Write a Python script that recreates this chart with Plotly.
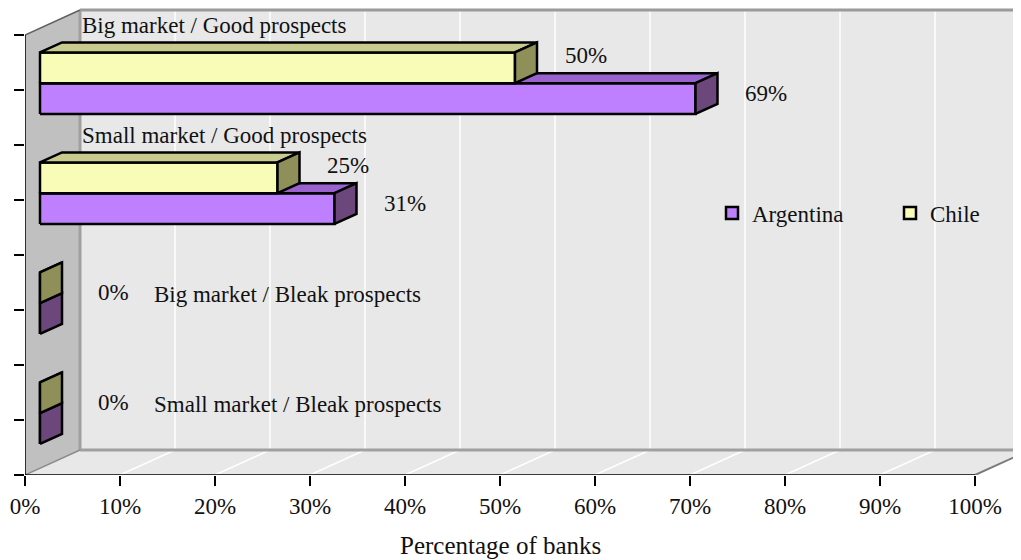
import plotly.graph_objects as go

# ---------------- data ----------------
categories = ["Big market / Good prospects", "Small market / Good prospects",
              "Big market / Bleak prospects", "Small market / Bleak prospects"]
argentina = [69, 31, 0, 0]
chile = [50, 25, 0, 0]
x_ticks = [0, 10, 20, 30, 40, 50, 60, 70, 80, 90, 100]
x_ticklabels = [f"{v}%" for v in x_ticks]
series_names = ["Argentina", "Chile"]

# ---------------- geometry (3D projection in axis units) ----------------
PX_PER_X = 9.5          # px per percent
PX_PER_Y = 110.0        # px per category band
D = 55 / PX_PER_X       # full depth, x units
DY = 25 / PX_PER_Y      # full depth, y units
F1, F2 = 15 / 55, 37 / 55   # bar front / back depth fraction
H = 0.28                # bar thickness (band units)
N = len(categories)

FONT = "Liberation Serif"
FS = 23

colors = {
    "Argentina": dict(front="#BF80FF", top="#9A62CC", side="#6C477C"),
    "Chile": dict(front="#F9FCB6", top="#C9CB8E", side="#8F9059"),
}

fig = go.Figure()


def poly(xs, ys, fill, line_color, lw):
    fig.add_trace(go.Scatter(
        x=list(xs) + [xs[0]], y=list(ys) + [ys[0]], mode="lines", fill="toself",
        fillcolor=fill, line=dict(color=line_color, width=lw),
        hoverinfo="skip", showlegend=False))


def line(xs, ys, color, lw):
    fig.add_trace(go.Scatter(x=xs, y=ys, mode="lines", line=dict(color=color, width=lw),
                             hoverinfo="skip", showlegend=False))


xmax = 100
ytop = float(N)
# back wall
poly([D, xmax + D, xmax + D, D], [DY, DY, ytop + DY, ytop + DY], "#E8E8E8", "rgba(0,0,0,0)", 0)
# floor
poly([0, xmax, xmax + D, D], [0, 0, DY, DY], "#E8E8E8", "rgba(0,0,0,0)", 0)
# grid lines on back wall and floor
for t in x_ticks[1:]:
    line([t + D, t + D], [DY, ytop + DY], "#FFFFFF", 1.5)
    line([t, t + D], [0, DY], "#FFFFFF", 1.5)
# left wall
poly([0, 0, D, D], [0, ytop, ytop + DY, DY], "#C0C0C0", "rgba(0,0,0,0)", 0)
# wall edges
line([D, xmax + D + 5], [ytop + DY, ytop + DY], "#9A9A9A", 3)
line([D, D], [DY, ytop + DY], "#A0A0A0", 3)
line([D, xmax + D + 5], [DY, DY], "#A0A0A0", 3)
line([0, D], [0, DY], "#8C8C8C", 1.5)
line([xmax, xmax + D], [0, DY], "#7A7A7A", 2)
line([0, D], [ytop, ytop + DY], "#606060", 1.5)
# front axes lines
line([0, 0], [0, ytop], "#000000", 1.5)
line([0, xmax], [0, 0], "#000000", 1.5)

# ---------------- bars ----------------
x0 = F1 * D
y0 = F1 * DY
bdx = (F2 - F1) * D
bdy = (F2 - F1) * DY
LW = 2.5
for i, cat in enumerate(categories):
    c = (N - 0.5) - i
    for name, vals, lo in (("Argentina", argentina, c - H), ("Chile", chile, c)):
        v = vals[i]
        col = colors[name]
        yb = lo + y0
        yt = lo + H + y0
        xe = x0 + v
        poly([x0, xe, xe, x0], [yb, yb, yt, yt], col["front"], "#000000", LW)
        poly([x0, xe, xe + bdx, x0 + bdx], [yt, yt, yt + bdy, yt + bdy], col["top"], "#000000", LW)
        poly([xe, xe, xe + bdx, xe + bdx], [yb, yt, yt + bdy, yb + bdy], col["side"], "#000000", LW)

# ---------------- labels ----------------
ann = []


def txt(x, y, s, anchor="center"):
    ann.append(dict(x=x, y=y, xref="x", yref="y", text=s, showarrow=False,
                    xanchor=anchor, yanchor="middle",
                    font=dict(family=FONT, size=FS, color="#111111")))


for i, cat in enumerate(categories):
    c = (N - 0.5) - i
    a, ch = argentina[i], chile[i]
    if a == 0 and ch == 0:
        txt(9.3, c + 0.16, "0%")
        txt(13.4, c + 0.14, cat, "left")
    else:
        txt(ch + 9.0, c + 0.31, f"{ch}%")
        txt(a + 9.0, c - 0.03, f"{a}%")
        txt(D, c + 0.59, cat, "left")

# page body has an 8px offset: figure coords = screen coords - 8
OFF = 8
ML = 25 - OFF
BASE = 475 - OFF          # baseline (0%) in figure px
MB = 560 - BASE
plot_w = 1021 - ML
plot_h = BASE

ann.append(dict(x=50, y=(BASE - (545 - OFF)) / plot_h, xref="x", yref="paper",
                text="Percentage of banks", showarrow=False, xanchor="center",
                yanchor="middle", font=dict(family=FONT, size=25, color="#111111")))

# legend entries
for name in series_names:
    fig.add_trace(go.Scatter(x=[None], y=[None], mode="markers", name=name,
                             marker=dict(symbol="square", size=12, color=colors[name]["front"],
                                         line=dict(color="#000000", width=2.5))))

fig.update_layout(
    width=1021, height=560,
    margin=dict(l=ML, r=0, t=0, b=MB, autoexpand=False),
    paper_bgcolor="#FFFFFF", plot_bgcolor="rgba(0,0,0,0)",
    annotations=ann,
    showlegend=True,
    legend=dict(orientation="h", x=(712 - OFF - ML) / plot_w,
                y=(BASE - (213 - OFF)) / plot_h,
                xanchor="left", yanchor="middle", bgcolor="rgba(0,0,0,0)",
                font=dict(family=FONT, size=FS, color="#111111"),
                entrywidth=133, itemwidth=30),
    xaxis=dict(range=[0, plot_w / PX_PER_X], tickvals=x_ticks, ticktext=x_ticklabels,
               ticks="outside", ticklen=10, tickwidth=1.5, tickcolor="#000000",
               showgrid=False, zeroline=False, showline=False,
               tickfont=dict(family=FONT, size=FS, color="#111111"), fixedrange=True),
    yaxis=dict(range=[0, plot_h / PX_PER_Y], tickvals=[k * 0.5 for k in range(2 * N + 1)],
               ticks="outside", ticklen=10, tickwidth=1.5, tickcolor="#000000",
               showticklabels=False, showgrid=False, zeroline=False, showline=False,
               fixedrange=True),
)

fig.write_html("out.html")
